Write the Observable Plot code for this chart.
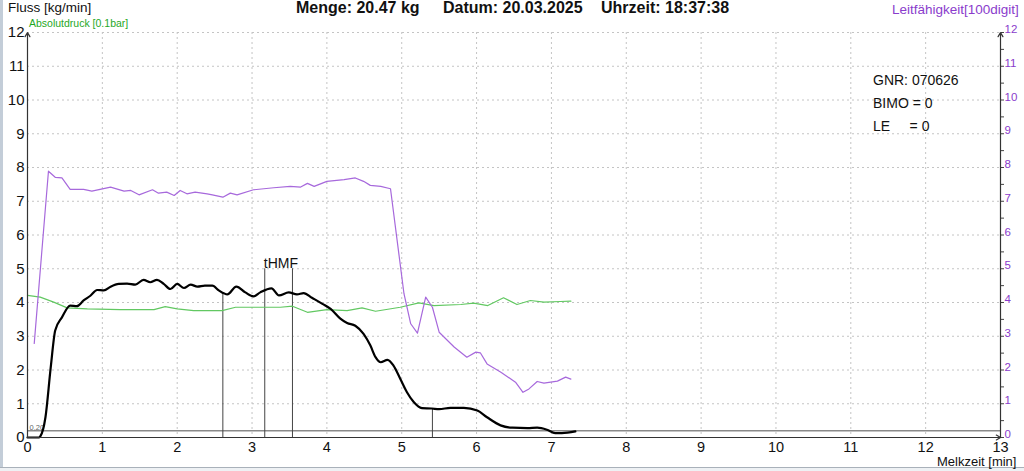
<!DOCTYPE html>
<html><head><meta charset="utf-8">
<script src="https://cdn.jsdelivr.net/npm/d3@7"></script>
<script src="https://cdn.jsdelivr.net/npm/@observablehq/plot@0.6"></script>
<style>
body{margin:0;background:#fff;font-family:"Liberation Sans",Arial,sans-serif;}
#wrap{position:relative;width:1024px;height:471px;overflow:hidden;background:#fff;}
#chart{position:absolute;left:0;top:0;}
.t{position:absolute;white-space:pre;line-height:1;}
#edgeL{position:absolute;left:0;top:0;width:3px;height:471px;background:#c3cdd8;}
#edgeB{position:absolute;left:0;top:467px;width:1024px;height:4px;background:#eef1f4;border-top:1px solid #a9b1ba;}
</style></head><body>
<div id="wrap">
<div id="chart"></div>
<div id="edgeL"></div><div id="edgeB"></div>
<div class="t" style="left:8px;top:1px;font-size:13.5px;color:#111">Fluss [kg/min]</div>
<div class="t" style="left:29px;top:18px;font-size:10.5px;color:#1fa81f">Absolutdruck [0.1bar]</div>
<div class="t" style="left:296px;top:0px;font-size:16px;font-weight:bold;color:#111">Menge: 20.47 kg</div>
<div class="t" style="left:443px;top:0px;font-size:16px;font-weight:bold;color:#111">Datum: 20.03.2025</div>
<div class="t" style="left:601px;top:0px;font-size:16px;font-weight:bold;color:#111">Uhrzeit: 18:37:38</div>
<div class="t" style="left:892px;top:3px;font-size:13.5px;color:#8a3ccc">Leitfähigkeit[100digit]</div>
<div class="t" style="left:937px;top:455px;font-size:13px;color:#111">Melkzeit [min]</div>
<div class="t" style="left:873px;top:73px;font-size:14px;color:#111">GNR: 070626</div>
<div class="t" style="left:873px;top:96px;font-size:14px;color:#111">BIMO = 0</div>
<div class="t" style="left:873px;top:119px;font-size:14px;color:#111">LE     = 0</div>
</div>
<script>
// Flow [kg/min]
const flowTime = [0,0.15,0.17,0.24,0.31,0.37,0.46,0.57,0.66,0.75,0.84,0.93,1.02,1.11,1.22,1.33,1.44,1.55,1.64,1.73,1.82,1.91,2.0,2.09,2.18,2.27,2.37,2.47,2.56,2.67,2.79,2.91,3.02,3.11,3.26,3.36,3.49,3.6,3.69,3.8,3.94,4.05,4.18,4.27,4.38,4.49,4.58,4.65,4.72,4.81,4.89,4.98,5.07,5.16,5.27,5.4,5.5,5.65,5.83,6.01,6.14,6.32,6.48,6.68,6.81,6.94,7.05,7.14,7.32];
const flowValue = [0,0,0.03,0.6,2.07,3.17,3.56,3.91,3.89,4.06,4.2,4.37,4.36,4.47,4.55,4.56,4.53,4.67,4.6,4.67,4.55,4.4,4.55,4.43,4.53,4.47,4.5,4.5,4.35,4.24,4.47,4.3,4.18,4.3,4.42,4.21,4.3,4.24,4.28,4.14,3.96,3.81,3.52,3.39,3.31,3.07,2.73,2.38,2.23,2.3,2.13,1.74,1.34,1.05,0.87,0.86,0.84,0.88,0.88,0.8,0.6,0.36,0.29,0.28,0.29,0.23,0.13,0.13,0.18];
// Conductivity [100digit]
const condTime = [0.09,0.28,0.37,0.46,0.57,0.75,0.86,1.11,1.29,1.38,1.49,1.67,1.75,1.86,1.96,2.04,2.13,2.24,2.4,2.47,2.61,2.71,2.8,3.02,3.29,3.51,3.65,3.74,3.83,4.0,4.23,4.38,4.49,4.58,4.72,4.85,5.03,5.12,5.21,5.32,5.41,5.5,5.7,5.87,5.99,6.05,6.14,6.32,6.52,6.62,6.7,6.81,6.9,7.08,7.19,7.26];
const condValue = [2.79,7.89,7.71,7.69,7.35,7.35,7.3,7.42,7.3,7.32,7.19,7.34,7.24,7.27,7.17,7.32,7.22,7.27,7.22,7.19,7.12,7.24,7.19,7.34,7.4,7.44,7.42,7.53,7.44,7.59,7.64,7.69,7.59,7.47,7.44,7.37,4.26,3.37,3.09,4.16,3.86,3.12,2.68,2.38,2.53,2.51,2.18,1.94,1.64,1.34,1.44,1.66,1.61,1.67,1.79,1.73];
// Absolute pressure [0.1bar]
const pressTime = [0,0.17,0.35,0.53,0.8,1.24,1.69,1.84,2.0,2.22,2.6,2.78,3.38,3.54,3.74,4.0,4.27,4.47,4.65,4.98,5.23,5.43,5.79,5.96,6.15,6.36,6.54,6.72,6.9,7.12,7.26];
const pressValue = [4.21,4.16,4.01,3.84,3.81,3.79,3.79,3.88,3.81,3.76,3.76,3.86,3.86,3.89,3.71,3.79,3.76,3.84,3.74,3.86,3.99,3.91,3.94,3.98,3.91,4.14,3.94,4.06,4.01,4.03,4.04];
// Event markers
const markerTime = [2.61, 3.17, 3.54, 5.41];
const markerTop = [4.28, 5.0, 5.0, 0.86];
const markerLabel = ["", "tHMF", "", ""];
// Threshold
const thresholdValue = [0.2];
const thresholdLabel = ["0,20"];
// Axes
const xDomain = [0, 13];
const yDomain = [0, 12];
const xTicks = d3.range(0, 14);
const yTicks = d3.range(0, 13);
const gridX = d3.range(1, 13);
const gridY = d3.range(1, 13);
const minorTicks = d3.range(0, 12.01, 0.5);

const flow = flowTime.map((t, i) => ({t, v: flowValue[i]}));
const cond = condTime.map((t, i) => ({t, v: condValue[i]}));
const press = pressTime.map((t, i) => ({t, v: pressValue[i]}));
const markers = markerTime.map((t, i) => ({t, top: markerTop[i], label: markerLabel[i]}));
const thresh = thresholdValue.map((v, i) => ({v, label: thresholdLabel[i]}));

const purple = "#8a3ccc";
const chart = Plot.plot({
  width: 1024, height: 471,
  marginLeft: 27, marginRight: 24, marginTop: 32, marginBottom: 34,
  x: {domain: xDomain},
  y: {domain: yDomain},
  style: {fontFamily: "Liberation Sans, Arial, sans-serif", fontSize: "15px", color: "#111", background: "transparent"},
  marks: [
    Plot.ruleX(gridX, {stroke: "#c4c4c4", strokeDasharray: "2,3", strokeWidth: 1}),
    Plot.ruleY(gridY, {stroke: "#c4c4c4", strokeDasharray: "2,3", strokeWidth: 1}),
    Plot.ruleY(thresh, {y: "v", stroke: "#8a8a8a", strokeWidth: 1.5}),
    Plot.text(thresh, {x: xDomain[0], y: "v", text: "label", textAnchor: "start", lineAnchor: "bottom", dx: 2, dy: -1, fontSize: 7.5, fill: "#666"}),
    Plot.ruleX(markers, {x: "t", y1: 0, y2: "top", stroke: "#444", strokeWidth: 1}),
    Plot.text(markers, {x: "t", y: "top", text: "label", textAnchor: "start", lineAnchor: "bottom", dx: -1, dy: -1, fontSize: 14, fill: "#111"}),
    Plot.line(press, {x: "t", y: "v", stroke: "#62c862", strokeWidth: 1.2}),
    Plot.line(cond, {x: "t", y: "v", stroke: "#a769dc", strokeWidth: 1.2}),
    Plot.line(flow, {x: "t", y: "v", stroke: "#000", strokeWidth: 2.2, curve: "monotone-x"}),
    Plot.axisY({anchor: "left", ticks: yTicks, tickSize: 0, tickPadding: 3, fontSize: 15, label: null}),
    Plot.axisX({anchor: "bottom", ticks: xTicks, tickSize: 0, tickPadding: 4, fontSize: 14.5, label: null}),
    Plot.axisY({anchor: "right", ticks: minorTicks, tickSize: 3, tickFormat: () => "", label: null, stroke: "#444"}),
    Plot.axisY({anchor: "right", ticks: yTicks, tickSize: 0, tickPadding: 4, fontSize: 11.5, dy: -3, fill: purple, label: null}),
    Plot.arrow([0], {x1: () => xDomain[0], y1: () => yDomain[0], x2: () => xDomain[0], y2: () => yDomain[1], stroke: "#333", strokeWidth: 1.2, headLength: 6}),
    Plot.arrow([0], {x1: () => xDomain[1], y1: () => yDomain[0], x2: () => xDomain[1], y2: () => yDomain[1], stroke: "#333", strokeWidth: 1.2, headLength: 6}),
    Plot.arrow([0], {x1: () => xDomain[0], y1: () => yDomain[0], x2: () => xDomain[1], y2: () => yDomain[0], stroke: "#333", strokeWidth: 1.2, headLength: 6})
  ]
});
document.getElementById("chart").appendChild(chart);
</script>
</body></html>
